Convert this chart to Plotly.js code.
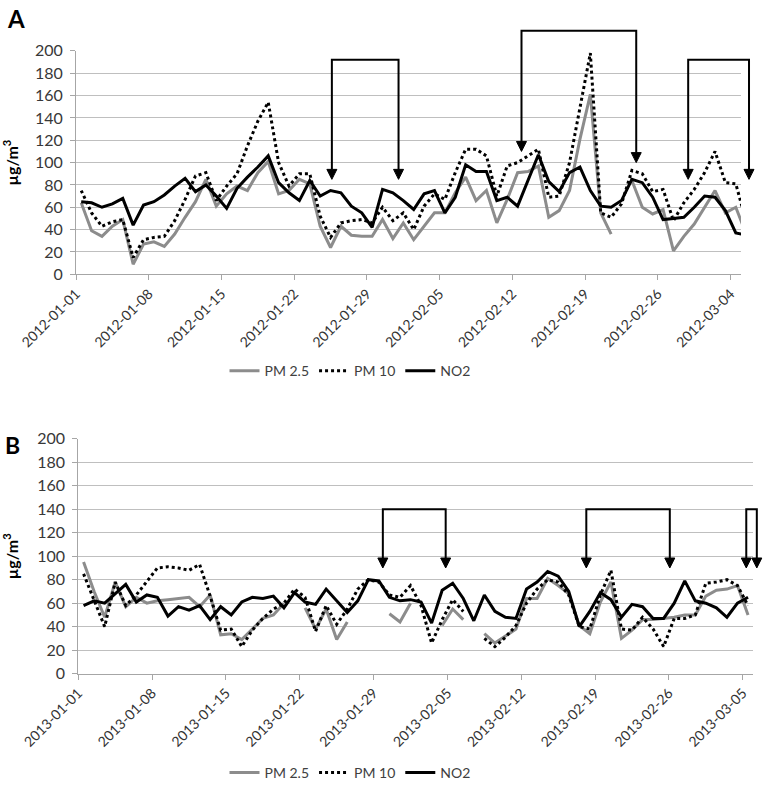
<!DOCTYPE html>
<html>
<head>
<meta charset="utf-8">
<script src="https://cdn.plot.ly/plotly-3.0.1.min.js"></script>
<style>
html,body{margin:0;padding:0;background:#fff;}
#chart{width:767px;height:789px;}
</style>
</head>
<body>
<div id="chart"></div>
<script>
// ---------------- data ----------------
const seriesNames = ['PM 2.5', 'PM 10', 'NO2'];

// Panel A: daily values from 2012-01-01 (last value on 2012-03-05 runs off the axis edge)
const startA = '2012-01-01';
const pm25A = [64,39,34,43,49,9,27,29,25,36, 51,65,85,61,72,79,75,91,101,72,
               75,85,81,43,24,43,35,34,34,49, 32,46,31,43,55,55,73,87,66,75,
               46,67,91,92,97,51,57,75,121,161, 55,36,null,84,60,54,58,21,34,45,
               60,75,55,60,36];
const pm10A = [75,55,43,47,49,15,31,33,34,48, 67,88,91,66,79,90,115,137,154,100,
               79,90,90,52,33,46,48,49,46,60, 48,55,40,61,72,67,91,112,112,106,
               70,97,100,106,112,69,70,100,148,198, 55,51,63,93,90,74,76,48,64,76,
               91,110,82,81,47];
const no2A  = [65,64,60,63,68,44,62,65,71,79, 86,74,80,70,59,77,87,96,106,82,
               73,66,84,70,75,73,61,55,42,76, 73,66,58,72,75,55,69,98,92,92,
               66,69,61,84,107,83,74,91,96,75, 61,60,66,85,82,69,49,50,51,60,
               70,69,57,37,35];

// Panel B: daily values from 2013-01-01
const startB = '2013-01-01';
const pm25B = [95,70,48,78,57,65,60,62,63,64, 65,57,67,33,34,29,38,47,50,60,
               null,56,38,55,29,44,null,null,null,51, 44,60,null,null,41,55,46,null,34,26,
               32,38,64,64,81,75,68,41,34,61, 78,30,37,46,46,47,48,50,50,66,
               71,72,75,50];
const pm10B = [85,62,40,78,58,67,78,90,91,90, 88,93,66,37,38,23,37,47,55,60,
               72,65,36,58,42,55,72,80,78,67, 65,75,58,26,46,63,53,null,30,23,
               31,41,60,72,80,78,67,40,38,67, 88,38,37,48,38,23,47,47,50,77,
               78,80,75,58];
const no2B  = [58,62,60,68,76,61,67,65,49,57, 54,58,46,57,50,61,65,64,66,56,
               69,61,59,72,62,52,62,80,79,65, 62,63,61,43,71,77,64,45,67,53,
               48,47,72,78,87,83,70,40,53,69, 63,48,59,57,47,47,60,79,62,60,
               56,48,60,65];

// axis ranges / ticks
const rangeA = ['2012-01-01', '2012-03-05'];
const rangeB = ['2013-01-01', '2013-03-06'];
const yRange = [0, 200];

// marked periods (bracket arrows): dates of the two arrows, bracket top and arrow tips in µg/m³
const periodsA = [
  {from:'2012-01-25 15:00', to:'2012-02-01 01:00', top:192, tipFrom:85,  tipTo:85},
  {from:'2012-02-12 21:00', to:'2012-02-23 22:00', top:218, tipFrom:110, tipTo:100},
  {from:'2012-02-28 22:00', to:'2012-03-05 18:30', top:192, tipFrom:85,  tipTo:85}
];
const periodsB = [
  {from:'2013-01-29 21:00', to:'2013-02-04 20:00', top:140, tipFrom:90, tipTo:90},
  {from:'2013-02-18 04:00', to:'2013-02-26 02:00', top:140, tipFrom:90, tipTo:90},
  {from:'2013-03-05 08:00', to:'2013-03-06 08:00', top:140, tipFrom:90, tipTo:90}
];

// ---------------- helpers ----------------
function dailyDates(start, n) {
  const out = [];
  const t0 = Date.parse(start + 'T12:00:00Z');
  for (let i = 0; i < n; i++) {
    out.push(new Date(t0 + i * 864e5).toISOString().slice(0, 10) + ' 12:00');
  }
  return out;
}
const W = 767, H = 789;
const FONT = 'Lato, "Open Sans", "DejaVu Sans", sans-serif';
const TXT = '#404040';

const domA = {x:[76/W, 741/W], y:[1-275/H, 1-51/H]};
const domB = {x:[78.3/W, 753.3/W], y:[1-675.3/H, 1-440/H]};

function ms(s){ return Date.parse(s.replace(' ', 'T') + (s.length > 10 ? ':00Z' : 'T00:00:00Z')); }
function xPaper(d, range, dom) {
  const a = ms(range[0]), b = ms(range[1]);
  return dom.x[0] + (ms(d) - a) / (b - a) * (dom.x[1] - dom.x[0]);
}
function yPaper(v, dom) {
  return dom.y[0] + (v - yRange[0]) / (yRange[1] - yRange[0]) * (dom.y[1] - dom.y[0]);
}

const datesA = dailyDates(startA, no2A.length);
const datesB = dailyDates(startB, no2B.length);

const styles = [
  {color:'#8c8c8c', width:3, dash:'solid'},
  {color:'#000000', width:3, dash:'dot'},
  {color:'#000000', width:3, dash:'solid'}
];

function makeTraces(dates, arrays, xa, ya, legend) {
  return arrays.map((arr, k) => ({
    type:'scatter', mode:'lines', x:dates, y:arr, name:seriesNames[k],
    xaxis:xa, yaxis:ya, legend:legend, connectgaps:false,
    line:{color:styles[k].color, width:styles[k].width, dash:styles[k].dash},
    hoverinfo:'x+y+name'
  }));
}

const data = [
  ...makeTraces(datesA, [pm25A, pm10A, no2A], 'x', 'y', 'legend'),
  ...makeTraces(datesB, [pm25B, pm10B, no2B], 'x2', 'y2', 'legend2')
];

// brackets with downward arrowheads
const shapes = [], annotations = [];
function addBrackets(periods, range, dom) {
  const headH = 10 / H, headW = 5 / W;
  periods.forEach(p => {
    const x1 = xPaper(p.from, range, dom), x2 = xPaper(p.to, range, dom);
    const yt = yPaper(p.top, dom), y1 = yPaper(p.tipFrom, dom), y2 = yPaper(p.tipTo, dom);
    shapes.push({type:'path', xref:'paper', yref:'paper',
      path:`M${x1},${y1 + headH} L${x1},${yt} L${x2},${yt} L${x2},${y2 + headH}`,
      line:{color:'#000', width:2}});
    [[x1, y1], [x2, y2]].forEach(([x, y]) => shapes.push({
      type:'path', xref:'paper', yref:'paper',
      path:`M${x - headW},${y + headH} L${x + headW},${y + headH} L${x},${y} Z`,
      fillcolor:'#000', line:{color:'#000', width:1}
    }));
  });
}
addBrackets(periodsA, rangeA, domA);
addBrackets(periodsB, rangeB, domB);

annotations.push({xref:'paper', yref:'paper', x:5/W, y:1-2/H, xanchor:'left', yanchor:'top',
  text:'<b>A</b>', showarrow:false, font:{family:FONT, size:24, color:'#000'}});
annotations.push({xref:'paper', yref:'paper', x:3/W, y:1-430/H, xanchor:'left', yanchor:'top',
  text:'<b>B</b>', showarrow:false, font:{family:FONT, size:23, color:'#000'}});

function xAxis(range, dom, anchor, tick0) {
  return {
    type:'date', range:range, domain:dom.x, anchor:anchor,
    tick0:tick0, dtick:7*864e5, tickformat:'%Y-%m-%d', tickangle:-45,
    tickfont:{family:FONT, size:14, color:'#333'},
    ticks:'outside', ticklen:5, tickcolor:'#a6a6a6', tickwidth:1,
    showgrid:false, showline:true, linecolor:'#a6a6a6', linewidth:1, zeroline:false,
    fixedrange:true
  };
}
function yAxis(dom, anchor) {
  return {
    range:yRange, domain:dom.y, anchor:anchor, dtick:20, tick0:0,
    tickfont:{family:FONT, size:16, color:'#383838'},
    ticks:'outside', ticklen:5, tickcolor:'#a6a6a6', ticklabelstandoff:4,
    showgrid:true, gridcolor:'#bfbfbf', gridwidth:1,
    showline:true, linecolor:'#a6a6a6', linewidth:1, zeroline:false,
    title:{text:'<b>µg/m<sup>3</sup></b>', font:{family:FONT, size:16, color:'#000'}, standoff:14},
    fixedrange:true
  };
}

const legendBase = {
  orientation:'h', xanchor:'center', yanchor:'middle',
  font:{family:FONT, size:14, color:TXT}, bgcolor:'rgba(0,0,0,0)', traceorder:'normal'
};

const layout = {
  width:W, height:H, margin:{l:0, r:0, t:0, b:0},
  paper_bgcolor:'#fff', plot_bgcolor:'#fff',
  font:{family:FONT, color:TXT},
  showlegend:true,
  xaxis:xAxis(rangeA, domA, 'y', startA),
  yaxis:yAxis(domA, 'x'),
  xaxis2:xAxis(rangeB, domB, 'y2', startB),
  yaxis2:yAxis(domB, 'x2'),
  legend:Object.assign({}, legendBase, {x:350/W, y:1-372/H}),
  legend2:Object.assign({}, legendBase, {x:350/W, y:1-775/H}),
  shapes:shapes,
  annotations:annotations
};

Plotly.newPlot('chart', data, layout, {displayModeBar:false, staticPlot:true});
</script>
</body>
</html>
